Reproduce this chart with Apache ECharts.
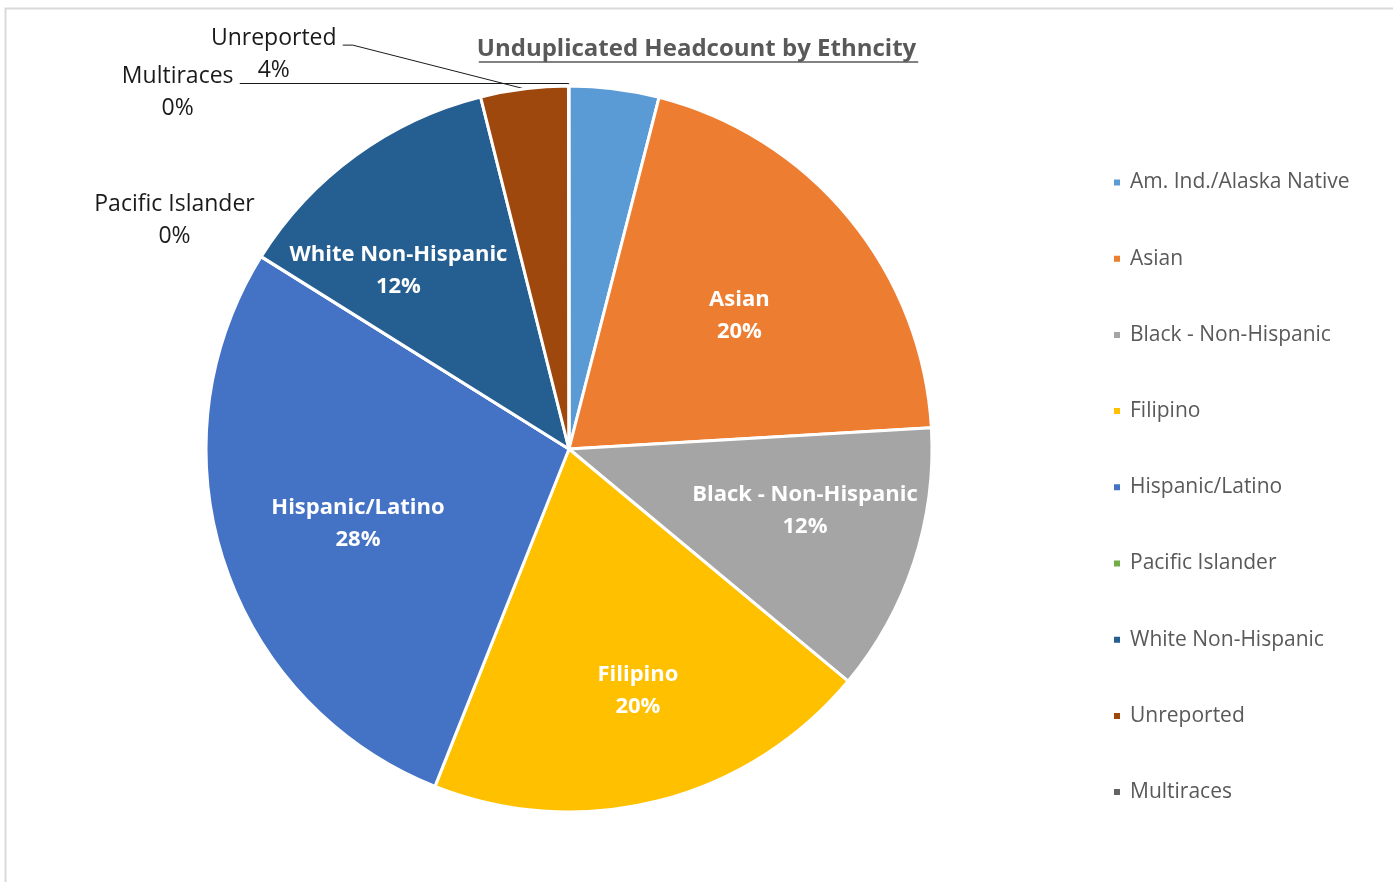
<!DOCTYPE html>
<html>
<head>
<meta charset="utf-8">
<script src="https://cdn.jsdelivr.net/npm/echarts@6/dist/echarts.min.js"></script>
<style>
html,body{margin:0;padding:0;background:#fff;}
#chart{width:1393px;height:882px;}
</style>
</head>
<body>
<div id="chart"></div>
<script>
const titleText = 'Unduplicated Headcount by Ethncity';
const categories = ['Am. Ind./Alaska Native','Asian','Black - Non-Hispanic','Filipino','Hispanic/Latino','Pacific Islander','White Non-Hispanic','Unreported','Multiraces'];
const headcount = [40, 201, 120, 200, 279, 0.2, 122, 39, 0.2];
const colors = ['#5B9BD5','#ED7D31','#A5A5A5','#FFC000','#4472C4','#70AD47','#255E91','#9E480E','#636363'];
const insideLabeled = ['Asian','Black - Non-Hispanic','Filipino','Hispanic/Latino','White Non-Hispanic'];

const FONT = 'Open Sans';
const R = 363;
const center = [569, 449];
const OUT_SIZE = 23;
const pct = p => Math.round(p.percent) + '%';

const ctx = document.createElement('canvas').getContext('2d');
function textWidth(t, font) { ctx.font = font; return ctx.measureText(t).width; }

// outside label styling: radial length, horizontal length, vertical nudge
const outsideLabel = {
  'Unreported': {len: 44, len2: 176, dy: 9, straight: true},
  'Multiraces': {len: 2.5, len2: 329, dy: 9},
  'Pacific Islander': {len: 0.1, len2: 0.1, dy: -36, hideLine: true}
};
// inside label nudges (Excel best-fit placement)
const insideNudge = {
  'Asian': [-14, 19],
  'Black - Non-Hispanic': [9, -13],
  'Filipino': [10, 10],
  'Hispanic/Latino': [16, 0],
  'White Non-Hispanic': [-30, 15]
};

const mainData = categories.map((c, i) => {
  const o = outsideLabel[c];
  const d = {name: c, value: headcount[i], itemStyle: {color: colors[i]}};
  if (o) {
    const w = Math.ceil(textWidth(c, OUT_SIZE + 'px "' + FONT + '"')) + 2;
    d.label = {
      show: true, position: 'outside',
      formatter: p => '{c|' + p.name + '}\n{c|' + pct(p) + '}',
      rich: {c: {width: w, align: 'center', fontFamily: FONT, fontSize: OUT_SIZE, lineHeight: 32, color: '#1a1a1a'}}
    };
    d.labelLine = {show: !o.hideLine, length: o.len, length2: o.len2};
  } else {
    d.label = {show: false};
    d.labelLine = {show: false};
  }
  return d;
});

const overlayData = categories.map((c, i) => ({
  name: c, value: headcount[i],
  label: {show: insideLabeled.indexOf(c) >= 0}
}));

const chart = echarts.init(document.getElementById('chart'));

const TITLE_SIZE = 24;
const tw = textWidth(titleText, 'bold ' + TITLE_SIZE + 'px "' + FONT + '"');
const tcx = 1393 / 2 + 2;

chart.setOption({
  animation: false,
  backgroundColor: '#ffffff',
  title: {
    text: titleText,
    left: 'center',
    top: 32,
    textStyle: {fontFamily: FONT, fontSize: TITLE_SIZE, fontWeight: 'bold', color: '#595959'}
  },
  legend: {
    orient: 'vertical',
    left: 1112,
    top: 172,
    padding: 0,
    itemWidth: 8,
    itemHeight: 8,
    itemGap: 55.2,
    icon: 'rect',
    data: categories,
    textStyle: {fontFamily: FONT, fontSize: 21, color: '#595959', lineHeight: 20, padding: [0,0,0,4]}
  },
  graphic: [
    {type: 'rect', shape: {x: 5.5, y: 8.5, width: 1500, height: 1000}, style: {fill: null, stroke: '#d9d9d9', lineWidth: 2}, silent: true},
    {type: 'line', shape: {x1: tcx - tw / 2, y1: 62, x2: tcx + tw / 2, y2: 62}, style: {stroke: '#595959', lineWidth: 1.5}, silent: true}
  ],
  series: [
    {
      type: 'pie',
      center: center,
      radius: [0, R],
      startAngle: 90.01,
      clockwise: true,
      avoidLabelOverlap: false,
      minShowLabelAngle: 0,
      itemStyle: {borderColor: '#ffffff', borderWidth: 3},
      labelLine: {lineStyle: {color: '#1a1a1a', width: 1}},
      labelLayout: function (params) {
        const name = categories[params.dataIndex];
        const o = outsideLabel[name];
        if (!o) return;
        const res = {dy: o.dy};
        const pts = params.labelLinePoints;
        if (pts) {
          if (o.straight) {
            res.labelLinePoints = [pts[0], [pts[2][0] + 10, pts[2][1]], pts[2]];
          } else {
            res.labelLinePoints = pts;
          }
        }
        return res;
      },
      emphasis: {disabled: true},
      data: mainData
    },
    {
      type: 'pie',
      silent: true,
      center: center,
      radius: [R * 0.3, R],
      startAngle: 90.01,
      clockwise: true,
      avoidLabelOverlap: false,
      itemStyle: {color: 'rgba(0,0,0,0)', borderWidth: 0},
      label: {
        position: 'inside',
        formatter: p => p.name + '\n' + pct(p),
        fontFamily: FONT, fontSize: 22, fontWeight: 'bold', lineHeight: 32, color: '#ffffff'
      },
      labelLayout: function (params) {
        const n = insideNudge[categories[params.dataIndex]];
        if (!n) return;
        return {dx: n[0], dy: n[1]};
      },
      labelLine: {show: false},
      emphasis: {disabled: true},
      data: overlayData
    }
  ]
});
</script>
</body>
</html>
